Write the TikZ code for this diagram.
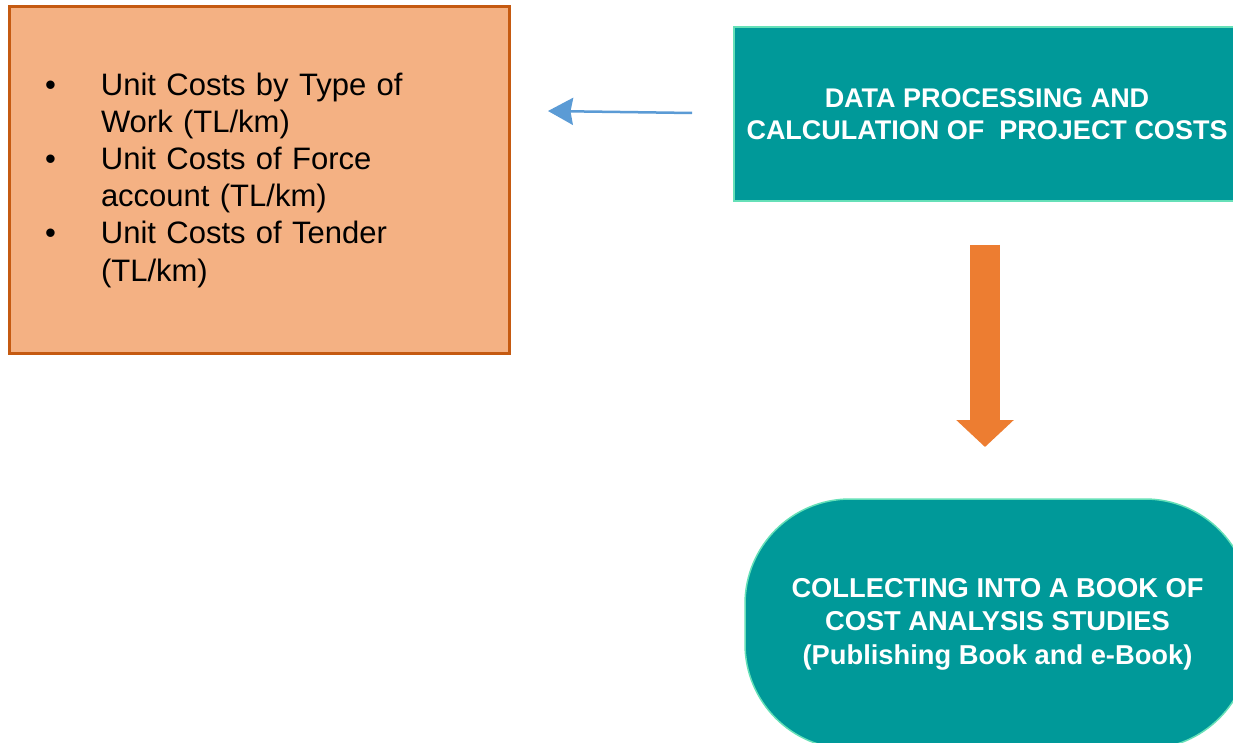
\documentclass[tikz,border=0pt]{standalone}
\usepackage{fontspec}
\setmainfont{Liberation Sans}
\usetikzlibrary{arrows.meta}
\definecolor{boxfill}{HTML}{F4B183}
\definecolor{boxline}{HTML}{C55A11}
\definecolor{tealfill}{HTML}{009999}
\definecolor{tealline}{HTML}{66E0B8}
\definecolor{arrowblue}{HTML}{5B9BD5}
\definecolor{arroworange}{HTML}{ED7D31}
\begin{document}
\begin{tikzpicture}[x=1pt,y=-1pt,
  infobox/.style={draw=boxline, line width=3pt, fill=boxfill, minimum width=500pt, minimum height=346pt,
    inner xsep=36pt, inner ysep=0pt, align=left, text width=428pt, font=\fontsize{31}{37.2}\selectfont},
  tealbox/.style={draw=tealline, line width=1.5pt, fill=tealfill, text=white, align=center,
    minimum width=506pt, minimum height=174pt, font=\bfseries\fontsize{27}{32}\selectfont},
  bookbox/.style={draw=tealline, line width=1.5pt, fill=tealfill, text=white, align=center, rounded corners=105pt,
    minimum width=505pt, minimum height=250pt, font=\bfseries\fontsize{27.3}{33.5}\selectfont},
  bluearrow/.style={arrowblue, line width=2.5pt, -{Stealth[length=25pt,width=27pt,inset=2.5pt]}},
  blockarrow/.style={arroworange, line width=30pt, -{Triangle[length=27pt,width=56pt]}}
]
\clip (0,0) rectangle (1233,743);
\fill[white] (0,0) rectangle (1233,743);
\node[infobox] (info) at (259,180) {%
  \makebox[56pt][l]{\textbullet}Unit Costs by Type of\\
  \hspace*{56pt}Work (TL/km)\\
  \makebox[56pt][l]{\textbullet}Unit Costs of Force\\
  \hspace*{56pt}account (TL/km)\\
  \makebox[56pt][l]{\textbullet}Unit Costs of Tender\\
  \hspace*{56pt}(TL/km)};
\node[tealbox] (teal) at (987,114) {DATA PROCESSING AND\\CALCULATION OF\ \ PROJECT COSTS};
\node[bookbox] (book) at (997.5,624) {COLLECTING INTO A BOOK OF\\COST ANALYSIS STUDIES\\(Publishing Book and e-Book)};
\coordinate (bstart) at (692,113);
\coordinate (bend) at (548,111);
\coordinate (ostart) at (985,245);
\coordinate (oend) at (985,447);
\draw[bluearrow] (bstart) -- (bend);
\draw[blockarrow] (ostart) -- (oend);
\end{tikzpicture}
\end{document}
